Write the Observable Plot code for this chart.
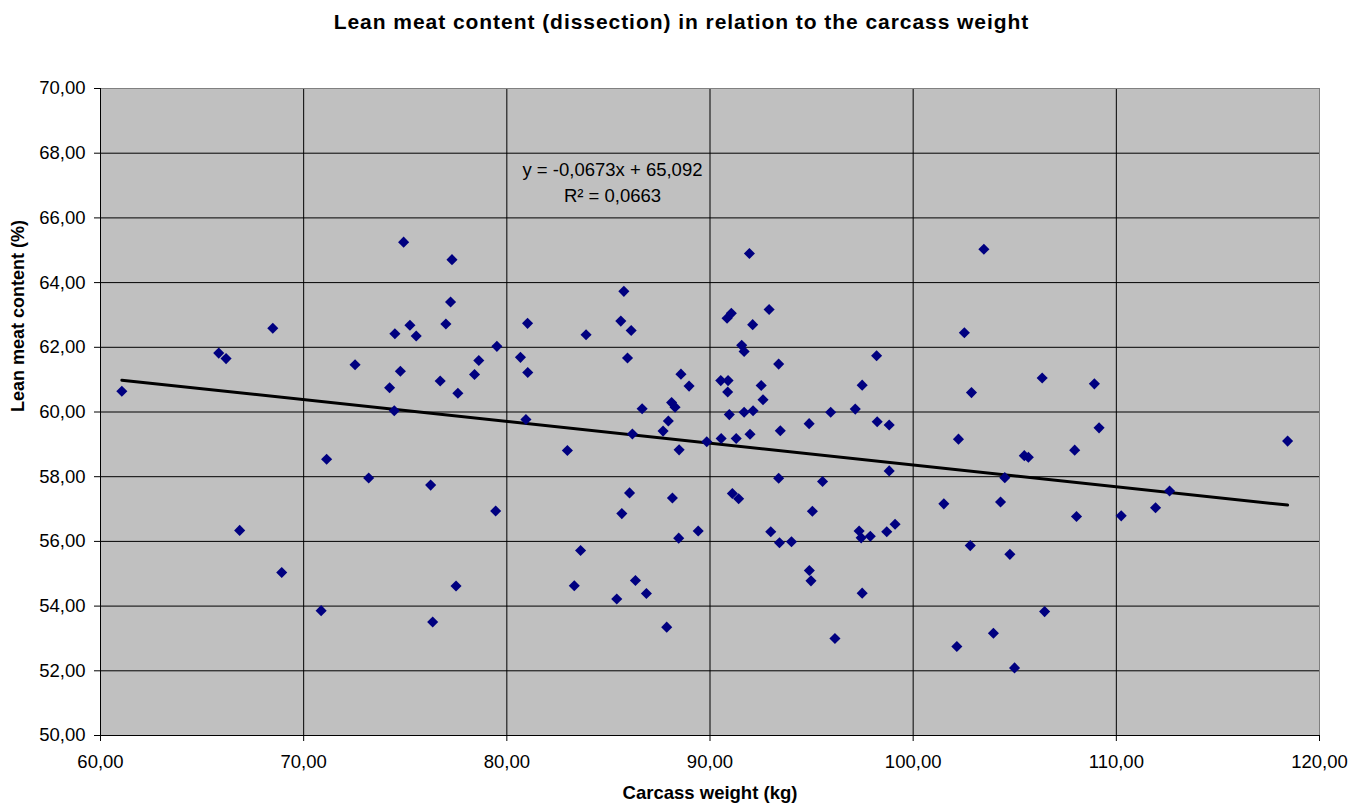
<!DOCTYPE html>
<html><head><meta charset="utf-8">
<script src="https://cdn.jsdelivr.net/npm/d3@7"></script>
<script src="https://cdn.jsdelivr.net/npm/@observablehq/plot@0.6"></script>
<style>
body{margin:0;background:#fff;font-family:"Liberation Sans",Arial,sans-serif;}
#title{height:45px;line-height:44px;text-align:center;font-weight:bold;font-size:21px;letter-spacing:0.95px;color:#000;}
</style></head><body>
<div id="title">Lean meat content (dissection) in relation to the carcass weight</div>
<div id="chart"></div>
<script>
const weights = [61.05,65.82,66.18,66.85,68.48,68.92,70.86,71.13,72.53,73.20,74.23,74.46,74.49,74.76,74.92,75.23,75.54,76.25,76.35,76.72,77.00,77.23,77.30,77.50,77.59,78.41,78.62,79.45,79.51,80.67,80.94,81.02,81.03,82.98,83.32,83.63,83.90,85.41,85.61,85.66,85.76,85.94,86.04,86.12,86.18,86.33,86.66,86.87,87.69,87.87,87.95,88.11,88.15,88.28,88.46,88.48,88.57,88.97,89.42,89.84,90.53,90.55,90.84,90.87,90.89,90.95,91.05,91.10,91.29,91.41,91.56,91.68,91.68,91.94,91.97,92.10,92.12,92.52,92.61,92.91,92.99,93.38,93.38,93.42,93.46,94.01,94.88,94.89,94.97,95.04,95.54,95.94,96.15,97.15,97.34,97.44,97.49,97.49,97.89,98.20,98.23,98.70,98.82,98.82,99.11,101.51,102.15,102.23,102.52,102.81,102.87,103.48,103.95,104.30,104.51,104.76,104.99,105.47,105.67,106.35,106.47,107.95,108.04,108.92,109.15,110.24,111.93,112.62,118.43];
const leanMeat = [60.64,61.82,61.65,56.34,62.59,55.04,53.86,58.54,61.46,57.96,60.75,60.04,62.42,61.26,65.25,62.68,62.35,57.74,53.51,60.96,62.72,63.40,64.71,54.62,60.58,61.16,61.59,56.94,62.03,61.69,59.77,62.74,61.22,58.81,54.63,55.72,62.39,54.22,62.81,56.86,63.73,61.67,57.50,62.52,59.32,54.79,60.10,54.39,59.41,53.35,59.72,60.29,57.34,60.15,56.10,58.83,61.17,60.80,56.32,59.08,60.97,59.18,62.90,60.62,60.97,59.92,63.05,57.48,59.18,57.32,62.06,61.87,59.99,64.90,59.31,62.70,60.04,60.82,60.38,63.17,56.30,61.48,57.95,55.96,59.42,55.99,59.64,55.10,54.78,56.93,57.85,59.99,53.00,60.09,56.32,56.11,60.83,54.40,56.16,61.74,59.70,56.30,59.60,58.18,56.53,57.16,52.75,59.16,62.45,55.87,60.60,65.03,53.16,57.22,57.97,55.60,52.09,58.65,58.60,61.05,53.83,58.82,56.77,60.87,59.51,56.79,57.04,57.56,59.10];
const xTicks = [60,70,80,90,100,110,120];
const yTicks = [50,52,54,56,58,60,62,64,66,68,70];
const slope = -0.0673;
const intercept = 65.092;
const eqLines = ["y = -0,0673x + 65,092", "R² = 0,0663"];
const eqX = [85.2, 85.2];
const eqY = [67.47, 66.67];
const xLabel = "Carcass weight (kg)";
const yLabel = "Lean meat content (%)";

const fmt = d => d.toFixed(2).replace(".", ",");
const data = weights.map((w, i) => ({w, l: leanMeat[i]}));
const [x0, x1] = d3.extent(weights);
const fit = [x0, x1].map(x => ({x, y: intercept + slope * x}));

const chart = Plot.plot({
  width: 1363, height: 760,
  marginTop: 43, marginBottom: 70, marginLeft: 100, marginRight: 44,
  style: {fontFamily: "'Liberation Sans', Arial, sans-serif", fontSize: "18.5px", color: "#000", background: "#fff", overflow: "visible"},
  x: {domain: [60, 120]},
  y: {domain: [50, 70]},
  marks: [
    Plot.frame({fill: "#c0c0c0", stroke: null}),
    Plot.gridX(xTicks, {stroke: "#000", strokeOpacity: 1}),
    Plot.gridY(yTicks, {stroke: "#000", strokeOpacity: 1}),
    Plot.frame({stroke: "#808080"}),
    Plot.ruleX([60], {stroke: "#000"}),
    Plot.ruleY([50], {stroke: "#000"}),
    Plot.axisX(xTicks, {tickSize: 6, tickPadding: 13, tickFormat: fmt, label: null}),
    Plot.axisY(yTicks, {tickSize: 6, tickPadding: 9, tickFormat: fmt, label: null}),
    Plot.line(fit, {x: "x", y: "y", stroke: "#000", strokeWidth: 3}),
    Plot.dot(data, {x: "w", y: "l", symbol: "diamond2", r: 5, fill: "#000080", stroke: null}),
    Plot.text(eqLines, {x: (d, i) => eqX[i], y: (d, i) => eqY[i], text: d => d, fontSize: 18.5, fill: "#000"}),
    Plot.text([xLabel], {frameAnchor: "bottom", dy: 63, fontWeight: "bold", fontSize: 18.5, fill: "#000"}),
    Plot.text([yLabel], {frameAnchor: "left", dx: -82, rotate: -90, fontWeight: "bold", fontSize: 18, fill: "#000"})
  ]
});
document.getElementById("chart").appendChild(chart);
</script>
</body></html>
